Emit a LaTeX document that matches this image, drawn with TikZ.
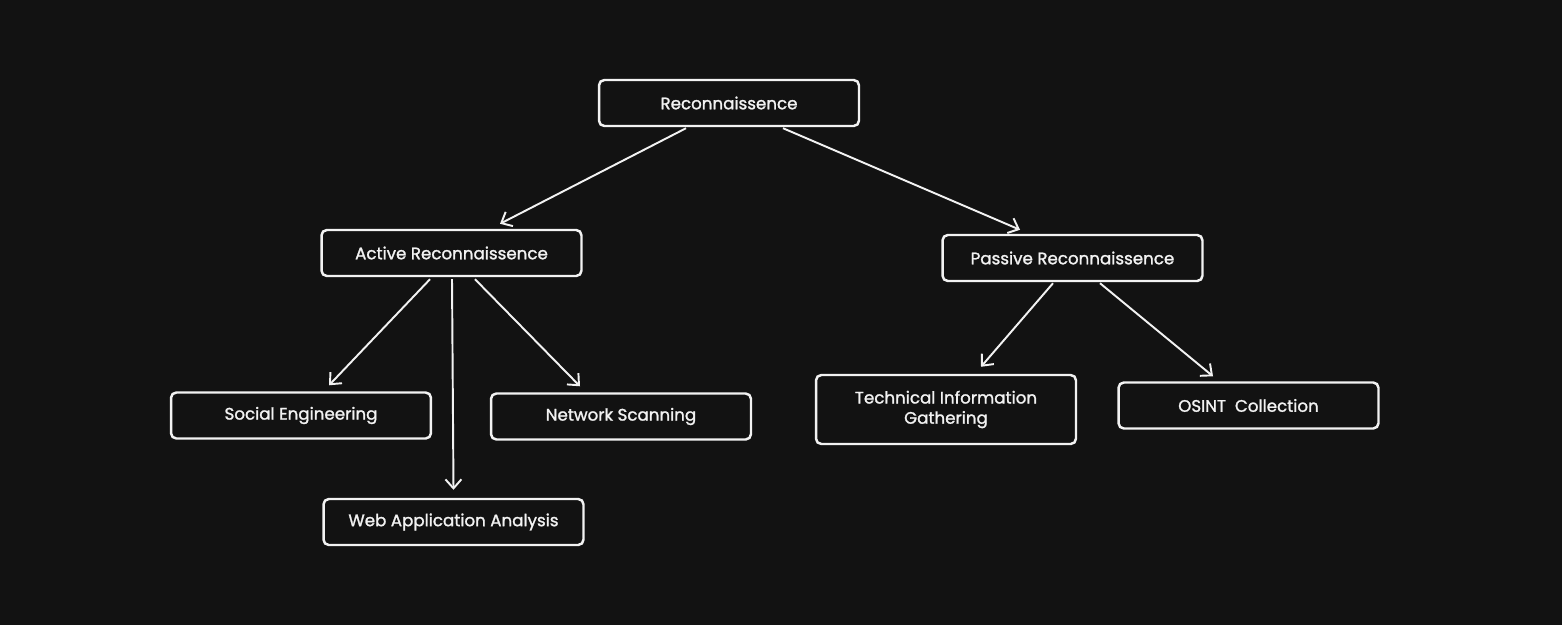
\documentclass[tikz,border=0pt]{standalone}
\usepackage{fontspec}
\setmainfont{Poppins}
\newfontfamily\lblfont[FakeBold=1.4]{Poppins}
\usetikzlibrary{arrows.meta,calc}
\definecolor{bg}{HTML}{121212}
\definecolor{fg}{HTML}{F2F2F2}
\begin{document}
\begin{tikzpicture}[x=0.02cm,y=-0.02cm,
  box/.style={draw=fg,line width=1.4pt,rounded corners=3pt,fill=bg,text=fg,
    minimum width=5.2cm,minimum height=0.92cm,inner sep=0pt,align=center,
    font=\lblfont\fontsize{9.5}{11.5}\selectfont},
  arr/.style={draw=fg,line width=1.1pt,-{Straight Barb[length=1.8mm,width=3.2mm,line width=1.1pt]}}]
\fill[bg] (0,0) rectangle (1562,625);
\useasboundingbox (0,0) rectangle (1562,625);
\node[box] (rec) at (729,103) {\raisebox{-1.5pt}{Reconnaissence}};
\node[box] (act) at (451.5,253) {\raisebox{-1.5pt}{Active Reconnaissence}};
\node[box] (pas) at (1072.5,258) {\raisebox{-1.5pt}{Passive Reconnaissence}};
\node[box] (soc) at (301,415.5) {\raisebox{-1.5pt}{Social Engineering}};
\node[box] (net) at (621,416.5) {\raisebox{-1.5pt}{Network Scanning}};
\node[box] (web) at (453.5,522) {\raisebox{-1.5pt}{Web Application Analysis}};
\node[box,minimum height=1.38cm] (tec) at (946,409.5) {Technical Information\\Gathering};
\node[box] (osi) at (1248.5,405.5) {\raisebox{-1.5pt}{OSINT\ \ Collection}};
\draw[arr] ($(rec.south)+(-43,1)$) -- ($(act.north)+(48.5,-5)$);
\draw[arr] ($(rec.south)+(54,1)$) -- ($(pas.north)+(-52.5,-4)$);
\draw[arr] ($(act.south)+(-21.5,2)$) -- ($(soc.north)+(28,-6)$);
\draw[arr] ($(act.south)+(0.5,2)$) -- ($(web.north)+(0,-8)$);
\draw[arr] ($(act.south)+(23.5,2)$) -- ($(net.north)+(-41,-6)$);
\draw[arr] ($(pas.south)+(-19.5,1)$) -- ($(tec.north)+(35,-7)$);
\draw[arr] ($(pas.south)+(27.5,1)$) -- ($(osi.north)+(-35.5,-5)$);
\end{tikzpicture}
\end{document}
